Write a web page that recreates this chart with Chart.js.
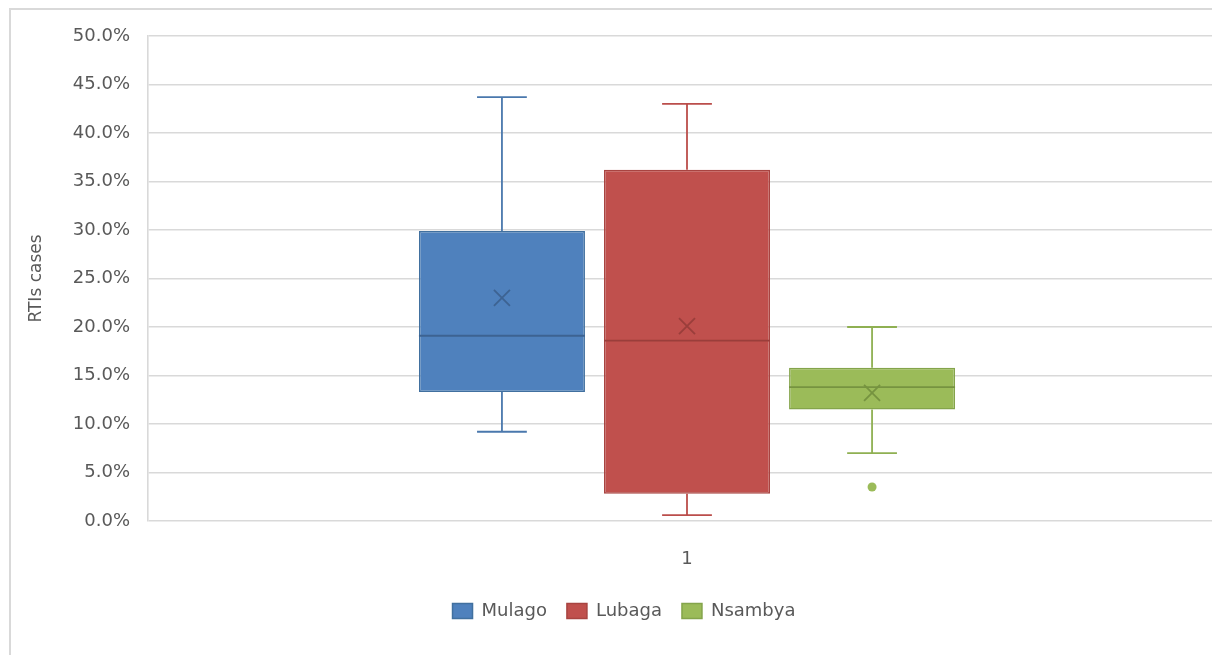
<!DOCTYPE html>
<html>
<head>
<meta charset="utf-8">
<script src="https://cdn.jsdelivr.net/npm/chart.js@4.4.1/dist/chart.umd.min.js"></script>
<style>
  html, body { margin: 0; padding: 0; background: #fff; overflow: hidden; }
  #frame { position: absolute; left: 9px; top: 8px; width: 1300px; height: 700px;
           border-left: 2px solid #d9d9d9; border-top: 2px solid #d9d9d9; }
  #wrap { position: absolute; left: 0; top: 0; width: 1240px; height: 655px; }
</style>
</head>
<body>
<div id="frame"></div>
<div id="wrap"><canvas id="boxChart"></canvas></div>
<script>
Chart.defaults.font.family = "DejaVu Sans";
Chart.defaults.font.size = 18;
Chart.defaults.color = "#595959";

// summary statistics per hospital (percent of cases)
const categories = ['1'];
const hospitals = ['Mulago', 'Lubaga', 'Nsambya'];
const whiskerLow = [9.2, 0.6, 7.0];
const q1 = [13.3, 2.8, 11.5];
const median = [19.1, 18.6, 13.8];
const q3 = [29.9, 36.2, 15.8];
const whiskerHigh = [43.7, 43.0, 20.0];
const mean = [23.0, 20.1, 13.2];
const outliers = [[], [], [3.5]];
const yTicks = [0, 5, 10, 15, 20, 25, 30, 35, 40, 45, 50];

const fills = ['#4f81bd', '#c0504d', '#9bbb59'];
const edges = ['#41709f', '#a84441', '#84a44b'];
const lines = ['#4a78ad', '#bb4e4b', '#8fb052'];
const marks = ['#3d6392', '#9a3e3b', '#769340'];

// whiskers, caps, median line, mean cross and outlier dots
const boxParts = {
  id: 'boxParts',
  afterDatasetsDraw(chart) {
    const ctx = chart.ctx;
    const y = chart.scales.y;
    chart.data.datasets.forEach((ds, i) => {
      const meta = chart.getDatasetMeta(i);
      if (meta.hidden) return;
      const bar = meta.data[0];
      const cx = bar.x, w = bar.width;
      const capHalf = w * 0.15;
      const yLo = y.getPixelForValue(whiskerLow[i]);
      const yQ1 = y.getPixelForValue(q1[i]);
      const yQ3 = y.getPixelForValue(q3[i]);
      const yHi = y.getPixelForValue(whiskerHigh[i]);
      const yMed = y.getPixelForValue(median[i]);
      const yMean = y.getPixelForValue(mean[i]);

      ctx.save();
      ctx.lineWidth = 1.8;
      ctx.strokeStyle = lines[i];
      ctx.beginPath();
      ctx.moveTo(cx, yQ3); ctx.lineTo(cx, yHi);
      ctx.moveTo(cx - capHalf, yHi); ctx.lineTo(cx + capHalf, yHi);
      ctx.moveTo(cx, yQ1); ctx.lineTo(cx, yLo);
      ctx.moveTo(cx - capHalf, yLo); ctx.lineTo(cx + capHalf, yLo);
      ctx.stroke();

      ctx.strokeStyle = marks[i];
      ctx.beginPath();
      ctx.moveTo(bar.x - w / 2, yMed); ctx.lineTo(bar.x + w / 2, yMed);
      ctx.stroke();

      const s = 8;
      ctx.beginPath();
      ctx.moveTo(cx - s, yMean - s); ctx.lineTo(cx + s, yMean + s);
      ctx.moveTo(cx + s, yMean - s); ctx.lineTo(cx - s, yMean + s);
      ctx.stroke();

      ctx.fillStyle = fills[i];
      outliers[i].forEach(v => {
        ctx.beginPath();
        ctx.arc(cx, y.getPixelForValue(v), 4.5, 0, Math.PI * 2);
        ctx.fill();
      });
      ctx.restore();
    });
  }
};

const datasets = hospitals.map((name, i) => ({
  label: name,
  data: [[q1[i], q3[i]]],
  backgroundColor: fills[i],
  borderColor: edges[i],
  borderWidth: 1.5,
  borderSkipped: false,
  categoryPercentage: 0.515,
  barPercentage: 0.897
}));

new Chart(document.getElementById('boxChart'), {
  type: 'bar',
  data: { labels: categories, datasets: datasets },
  options: {
    responsive: true,
    maintainAspectRatio: false,
    animation: false,
    layout: { padding: { left: 22, top: 36, right: 14, bottom: 25 } },
    plugins: {
      tooltip: { enabled: false },
      legend: {
        position: 'bottom',
        labels: { boxWidth: 20, boxHeight: 15, padding: 20, color: '#595959' }
      }
    },
    scales: {
      x: {
        grid: { display: false },
        border: { display: false },
        ticks: { padding: 20 },
        afterFit: s => { s.height = 61; }
      },
      y: {
        min: 0,
        max: 50,
        afterBuildTicks: s => { s.ticks = yTicks.map(v => ({ value: v })); },
        ticks: { padding: 18, callback: v => v.toFixed(1) + '%' },
        grid: { color: '#d9d9d9', lineWidth: 1.6, drawTicks: false },
        border: { display: true, color: '#d9d9d9', width: 1.6 },
        title: { display: true, text: 'RTIs cases', color: '#595959', font: { size: 17 } },
        afterFit: s => { s.width = 126; }
      }
    }
  },
  plugins: [boxParts]
});
</script>
</body>
</html>
